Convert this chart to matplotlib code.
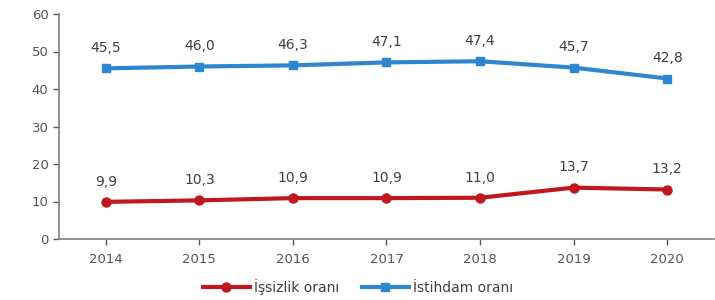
import matplotlib
matplotlib.use("Agg")
import matplotlib.pyplot as plt

plt.rcParams['font.family'] = ['DejaVu Sans']

years = ["2014", "2015", "2016", "2017", "2018", "2019", "2020"]
unemployment = [9.9, 10.3, 10.9, 10.9, 11.0, 13.7, 13.2]
employment = [45.5, 46.0, 46.3, 47.1, 47.4, 45.7, 42.8]
yticks = [0, 10, 20, 30, 40, 50, 60]

red = "#C0181E"
blue = "#2F86D0"
gray = "#555555"

fig = plt.figure(figsize=(7.15, 3.0), dpi=100)
ax = fig.add_axes([59/715, 1 - 239/300, (714-59)/715, (239-14)/300])

x = list(range(len(years)))
ax.plot(x, unemployment, color=red, lw=3.0, marker='o', ms=6.5, label="İşsizlik oranı")
ax.plot(x, employment, color=blue, lw=3.0, marker='s', ms=6, label="İstihdam oranı")

for series in (unemployment, employment):
    for xi, v in zip(x, series):
        ax.annotate(f"{v:.1f}".replace('.', ','), (xi, v), xytext=(0, 9.5), textcoords='offset points',
                    ha='center', va='bottom', fontsize=10, color='#404040')

ax.set_xlim(-0.5, len(years) - 0.5)
ax.set_ylim(0, 60)
ax.set_xticks(x)
ax.set_xticklabels(years)
ax.set_yticks(yticks)
ax.tick_params(axis='both', colors=gray, labelsize=9.5, length=4, width=1)
ax.tick_params(axis='x', pad=6)
for s in ['top', 'right']:
    ax.spines[s].set_visible(False)
for s in ['left', 'bottom']:
    ax.spines[s].set_color('#7f7f7f')
    ax.spines[s].set_linewidth(1.2)

leg = fig.legend(loc='center', bbox_to_anchor=(358/715, 1 - 287/300), ncol=2, frameon=False,
                 fontsize=10, handlelength=3.4, columnspacing=1.6, handletextpad=0.3)
for t in leg.get_texts():
    t.set_color('#404040')

fig.savefig("out.png", dpi=100)
